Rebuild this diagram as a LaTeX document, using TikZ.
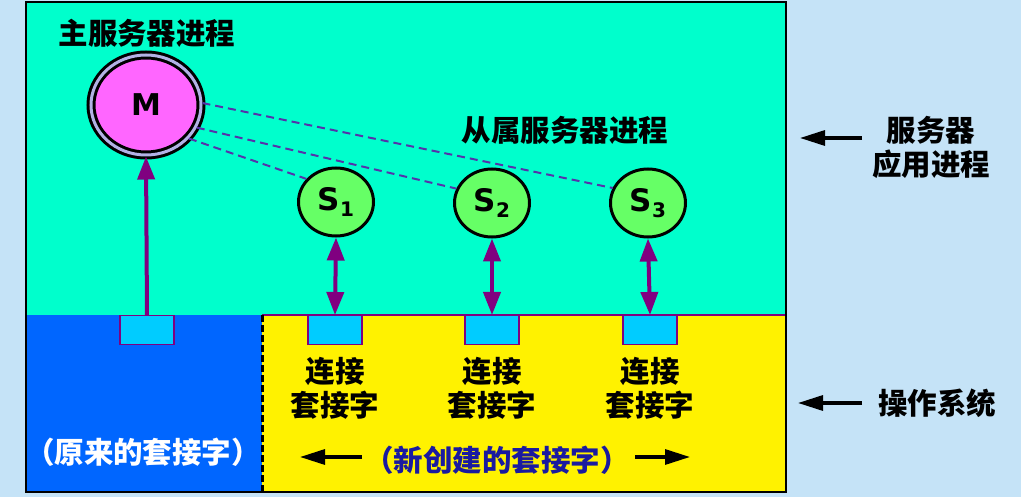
\documentclass[tikz,border=0pt]{standalone}
\usepackage{fontspec}
\setmainfont{Noto Sans CJK SC}
\newfontfamily\latin{DejaVu Sans}
\usetikzlibrary{arrows.meta,shapes.geometric,positioning}
\definecolor{bgblue}{HTML}{C5E3F7}
\definecolor{appcyan}{HTML}{00FFCC}
\definecolor{oldblue}{HTML}{0066FF}
\definecolor{sockcyan}{HTML}{00CCFF}
\definecolor{mpink}{HTML}{FF66FF}
\definecolor{sgreen}{HTML}{66FF66}
\definecolor{arrpurple}{HTML}{800080}
\definecolor{dashpurple}{HTML}{5533AA}
\definecolor{newblue}{HTML}{1A1AA0}
\tikzstyle{master} = [ellipse, minimum width=110pt, minimum height=100pt, draw=black, line width=3pt, double=gray!50!blue!40, double distance=3pt, fill=mpink, font=\latin\bfseries\fontsize{30}{30}\selectfont]
\tikzstyle{slave} = [ellipse, minimum width=75pt, minimum height=68pt, draw=black, line width=3pt, fill=sgreen, font=\latin\bfseries\fontsize{31}{31}\selectfont]
\tikzstyle{socket} = [rectangle, minimum width=54pt, minimum height=29pt, draw=arrpurple, line width=1.5pt, fill=sockcyan, anchor=north, inner sep=0pt]
\tikzstyle{label} = [font=\bfseries\fontsize{29.5}{34}\selectfont, align=center, inner sep=0pt]
\tikzstyle{arrow} = [arrpurple, line width=4pt, -{Triangle[width=17pt,length=23pt]}]
\tikzstyle{dblarrow} = [arrpurple, line width=4pt, {Triangle[width=17pt,length=23pt]}-{Triangle[width=17pt,length=23pt]}]
\tikzstyle{pointer} = [black, line width=3.2pt, -{Triangle[width=15pt,length=25pt]}]
\tikzstyle{link} = [dashpurple, line width=2pt, dash pattern=on 8pt off 5pt]
\newcommand{\sub}[1]{S{\fontsize{20}{20}\selectfont\raisebox{-6pt}{#1}}}

\begin{document}
\begin{tikzpicture}[x=1pt, y=-1pt]
	\useasboundingbox (0,0) rectangle (1021,497);
	\fill [bgblue] (0,0) rectangle (1021,497);
	\fill [appcyan] (26,2) rectangle (786,315);
	\fill [oldblue] (26,315) rectangle (262,492);
	\fill [yellow] (262,315) rectangle (786,492);
	\draw [arrpurple, line width=1.5pt] (262,315) -- (786,315);
	\draw [black, line width=3pt, dash pattern=on 7pt off 3pt] (262,315) -- (262,492);
	\draw [black, line width=2.5pt] (26,2) rectangle (786,492);

	\node (M) [master] at (146,105) {M};
	\node (S1) [slave] at (336,202) {\sub{1}};
	\node (S2) [slave] at (492,203) {\sub{2}};
	\node (S3) [slave] at (648,203) {\sub{3}};

	\node (sock0) [socket] at (147,315) {};
	\node (sock1) [socket] at (335,315) {};
	\node (sock2) [socket] at (492,315) {};
	\node (sock3) [socket] at (650,315) {};

	\node (mainlbl) [label] at (147,33) {主服务器进程};
	\node (slavelbl) [label] at (565,130) {从属服务器进程};
	\node (applbl) [label] at (931,147) {服务器\\应用进程};
	\node (oslbl) [label] at (937,403) {操作系统};
	\node (conn1) [label, below=12pt of sock1] {连接\\套接字};
	\node (conn2) [label, below=12pt of sock2] {连接\\套接字};
	\node (conn3) [label, below=12pt of sock3] {连接\\套接字};
	\node (oldlbl) [label, white] at (143,452) {（原来的套接字）};
	\node (newlbl) [label, newblue] at (497,460) {（新创建的套接字）};

	\coordinate (apptip) at (800,138);
	\coordinate (apptail) at (862,138);
	\coordinate (ostip) at (798,403);
	\coordinate (ostail) at (862,403);
	\coordinate (newltip) at (300,457);
	\coordinate (newltail) at (362,457);
	\coordinate (newrtail) at (635,457);
	\coordinate (newrtip) at (690,457);

	\draw [arrow] (sock0.north) -- (M.south);
	\draw [dblarrow] (S1.south) -- (sock1.north);
	\draw [dblarrow] (S2.south) -- (sock2.north);
	\draw [dblarrow] (S3.south) -- (sock3.north);
	\draw [link] (M.2) -- (S3.157);
	\draw [link] (M.-24) -- (S2.158);
	\draw [link] (M.-38) -- (S1.142);
	\draw [pointer] (apptail) -- (apptip);
	\draw [pointer] (ostail) -- (ostip);
	\draw [pointer] (newltail) -- (newltip);
	\draw [pointer] (newrtail) -- (newrtip);
\end{tikzpicture}
\end{document}
